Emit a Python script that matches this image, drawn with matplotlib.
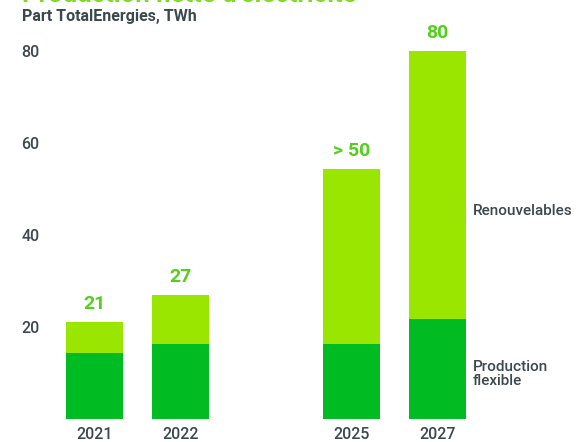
import matplotlib
matplotlib.use("Agg")
import matplotlib.pyplot as plt

plt.rcParams['font.family'] = ['Roboto', 'DejaVu Sans']

years = ["2021", "2022", "2025", "2027"]
positions = [0, 1, 3, 4]
flexible = [14.3, 16.3, 16.3, 21.7]
renewables = [6.7, 10.7, 38.0, 58.3]
value_labels = ["21", "27", "> 50", "80"]
yticks = [20, 40, 60, 80]

c_light = "#9ae600"
c_dark = "#00bc23"
c_label = "#52d01c"
c_text = "#3b484e"

W, H = 577, 442
fig = plt.figure(figsize=(W / 100, H / 100), dpi=100)
left_px, bottom_px = 50, 23
ax = fig.add_axes([left_px / W, bottom_px / H, 1 - left_px / W, 1 - bottom_px / H])
px_unit = 85.75
ax.set_xlim((left_px - 94.5) / px_unit, (W - 94.5) / px_unit)
ax.set_ylim(0, (H - bottom_px) / 4.6)

totals = [f + r for f, r in zip(flexible, renewables)]
ax.bar(positions, flexible, width=0.665, color=c_dark)
ax.bar(positions, renewables, width=0.665, bottom=flexible, color=c_light)

for p, t, lab in zip(positions, totals, value_labels):
    ax.annotate(lab, (p, t), xytext=(0, 6.5), textcoords="offset points",
                ha="center", va="bottom", color=c_label, fontsize=14, fontweight="semibold")

ax.set_xticks(positions)
ax.set_xticklabels(years)
ax.set_yticks(yticks)
ax.tick_params(length=0, labelsize=11.5, labelcolor=c_text)
ax.tick_params(axis="y", pad=7.5)
ax.tick_params(axis="x", pad=5.5)
for lbl in ax.get_xticklabels() + ax.get_yticklabels():
    lbl.set_fontweight("medium")
for s in ax.spines.values():
    s.set_visible(False)

ax.annotate("Renouvelables", (4.41, 45.3), xycoords="data", ha="left", va="center",
            color=c_text, fontsize=11, fontweight="medium")
ax.annotate("Production\nflexible", (4.41, 9.8), xycoords="data", ha="left", va="center",
            color=c_text, fontsize=11, fontweight="medium", linespacing=1.05)

fig.text(22 / W, 1 - 21.5 / H, "Part TotalEnergies, TWh", ha="left", va="baseline",
         color=c_text, fontsize=11.5, fontweight="bold")
fig.text(22 / W, 1 - 2.2 / H, "Production nette d'électricité", ha="left", va="baseline",
         color="#7ddc1f", fontsize=18.5, fontweight="bold")

fig.savefig("out.png", dpi=100)
